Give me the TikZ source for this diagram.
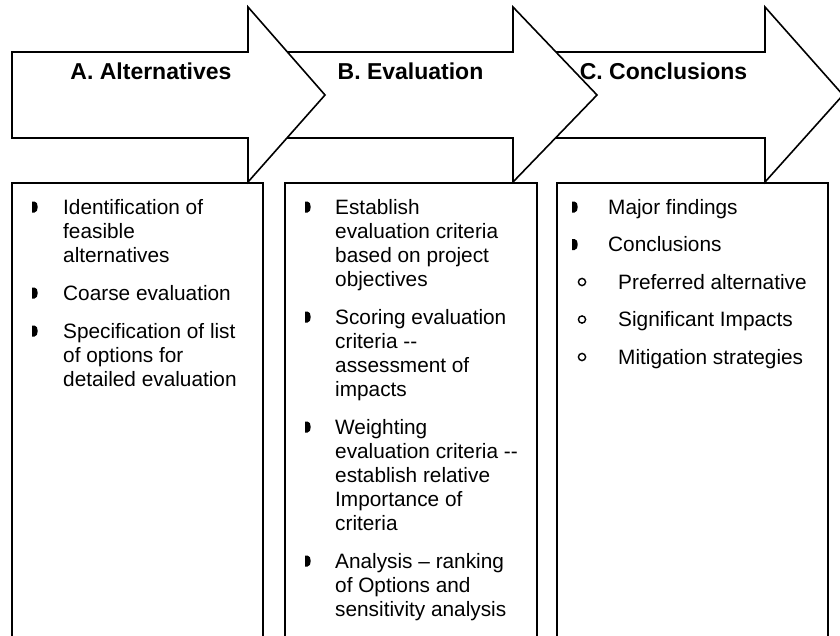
\documentclass[tikz,border=0pt]{standalone}
\usepackage{fontspec}
\setmainfont{Liberation Sans}
\newcommand{\bulD}[2]{\fill (#1-3,#2-5.5) -- (#1-0.5,#2-5.5) .. controls (#1+3.8,#2-5.5) and (#1+3.8,#2+5.5) .. (#1-0.5,#2+5.5) -- (#1-3,#2+5.5) -- cycle;}
\newcommand{\bulO}[2]{\draw[line width=1.4pt] (#1,#2) circle (3.6);}
\newcommand{\itemtext}[1]{\begin{minipage}[t]{240pt}\raggedright\fontsize{20.8}{24}\selectfont #1\end{minipage}}
\begin{document}
\begin{tikzpicture}[x=1pt,y=-1pt,
  arrowshape/.style={draw=black,fill=white,line width=1.6pt,line join=miter},
  boxline/.style={draw=black,line width=1.6pt},
  title/.style={font=\fontsize{23}{26}\selectfont\bfseries,anchor=base,inner sep=0pt},
  itm/.style={anchor=base west,inner sep=0pt}]
\useasboundingbox (0,0) rectangle (840,635);
\fill[white] (0,0) rectangle (840,635);
% arrows (drawn back to front)
\path[arrowshape] (470,52) -- (765,52) -- (765,7) -- (843,95) -- (765,182) -- (765,138) -- (470,138) -- cycle;
\path[arrowshape] (200,52) -- (513,52) -- (513,7) -- (597,95) -- (513,182) -- (513,138) -- (200,138) -- cycle;
\path[arrowshape] (12,52) -- (248,52) -- (248,7) -- (325,95) -- (248,182) -- (248,138) -- (12,138) -- cycle;
% titles
\node[title] (tA) at (151,79) {A. Alternatives};
\node[title] (tB) at (410.5,79) {B. Evaluation};
\node[title] (tC) at (663.5,79) {C. Conclusions};
% boxes (open at the bottom)
\path[boxline] (12,640) -- (12,183) -- (263,183) -- (263,640);
\path[boxline] (285,640) -- (285,183) -- (537,183) -- (537,640);
\path[boxline] (557,640) -- (557,183) -- (828,183) -- (828,640);
% box A
\bulD{35}{207}
\node[itm] (a1) at (63,214) {\itemtext{Identification of\\feasible\\alternatives}};
\bulD{35}{293}
\node[itm] (a2) at (63,300) {\itemtext{Coarse evaluation}};
\bulD{35}{331}
\node[itm] (a3) at (63,338) {\itemtext{Specification of list\\of options for\\detailed evaluation}};
% box B
\bulD{308}{207}
\node[itm] (b1) at (335,214) {\itemtext{Establish\\evaluation criteria\\based on project\\objectives}};
\bulD{308}{317}
\node[itm] (b2) at (335,324) {\itemtext{Scoring evaluation\\criteria -{}-\\assessment of\\impacts}};
\bulD{308}{427}
\node[itm] (b3) at (335,434) {\itemtext{Weighting\\evaluation criteria -{}-\\establish relative\\Importance of\\criteria}};
\bulD{308}{561}
\node[itm] (b4) at (335,568) {\itemtext{Analysis – ranking\\of Options and\\sensitivity analysis}};
% box C
\bulD{575}{207}
\node[itm] (c1) at (608,214) {\itemtext{Major findings}};
\bulD{575}{244.5}
\node[itm] (c2) at (608,251.5) {\itemtext{Conclusions}};
\bulO{582}{282}
\node[itm] (c3) at (618,289) {\itemtext{Preferred alternative}};
\bulO{582}{319.5}
\node[itm] (c4) at (618,326.5) {\itemtext{Significant Impacts}};
\bulO{582}{357}
\node[itm] (c5) at (618,364) {\itemtext{Mitigation strategies}};
\end{tikzpicture}
\end{document}
